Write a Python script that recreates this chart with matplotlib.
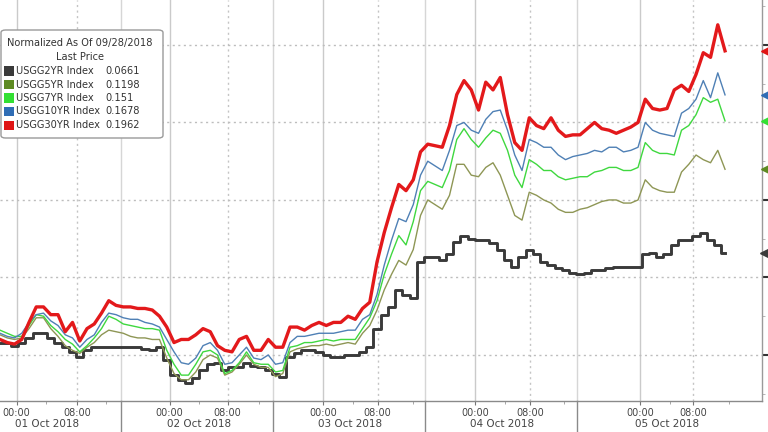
import numpy as np
import matplotlib
matplotlib.use("Agg")
import matplotlib.pyplot as plt
from matplotlib.patches import FancyBboxPatch, Rectangle
from matplotlib.transforms import blended_transform_factory

# ---------------- data ----------------
names = ["USGG2YR Index", "USGG5YR Index", "USGG7YR Index", "USGG10YR Index", "USGG30YR Index"]
line_colors = ["#3a3a3a", "#8e9655", "#3fd83f", "#4f80b5", "#e3191b"]
patch_colors = ["#3a3a3a", "#5d8a22", "#33e033", "#2f6db5", "#e01515"]
line_widths = [2.1, 1.0, 1.0, 1.0, 2.4]

# hourly samples of the normalized change, in basis points
y2_bp = [0.8, 0.8, 0.6, 0.8, 1.1, 1.4, 1.4, 1.1, 0.8, 0.5, 0.2, -0.1, 0.3, 0.5, 0.5, 0.5, 0.5, 0.5, 0.5, 0.5,
         0.4, 0.3, 0.5, -0.3, -1.3, -1.6, -1.8, -1.5, -1.0, -0.6, -0.5, -1.0, -0.8, -0.8, -0.5, -0.7, -0.8, -1.0, -1.2, -1.4,
         -0.1, 0.1, 0.3, 0.3, 0.2, 0.0, -0.1, -0.1, 0.0, 0.0, 0.2, 0.5, 1.7, 2.6, 3.1, 4.2, 3.9, 3.7, 6.0, 6.3,
         6.3, 6.1, 6.5, 7.3, 7.7, 7.5, 7.4, 7.4, 7.2, 6.8, 6.1, 5.7, 6.3, 6.8, 6.5, 6.0, 5.8, 5.6, 5.5, 5.3,
         5.2, 5.3, 5.5, 5.5, 5.6, 5.7, 5.7, 5.7, 5.7, 6.5, 6.6, 6.3, 6.5, 7.1, 7.4, 7.4, 7.7, 7.9, 7.4, 7.1,
         6.61]
y5_bp = [1.3, 1.1, 1.0, 1.1, 1.7, 2.4, 2.4, 1.7, 1.2, 0.6, 0.3, 0.1, 0.5, 0.8, 1.3, 1.6, 1.5, 1.4, 1.2, 1.1,
         1.1, 1.0, 1.0, -0.2, -1.2, -1.6, -1.6, -1.1, -0.3, 0.0, -0.2, -1.3, -1.1, -0.6, 0.0, -0.6, -0.8, -0.8, -1.4, -1.2,
         0.2, 0.4, 0.5, 0.6, 0.6, 0.7, 0.6, 0.7, 0.8, 0.7, 1.4, 1.9, 2.9, 4.2, 5.2, 6.1, 5.8, 6.8, 9.0, 10.0,
         9.7, 9.4, 10.3, 12.3, 12.3, 11.6, 11.5, 12.1, 12.4, 11.6, 10.3, 9.0, 8.7, 10.5, 10.3, 10.0, 9.8, 9.4, 9.2, 9.2,
         9.4, 9.5, 9.7, 9.9, 10.0, 10.0, 9.8, 9.8, 10.0, 11.3, 10.8, 10.6, 10.5, 10.5, 11.8, 12.3, 12.9, 12.6, 12.4, 13.2,
         11.98]
y7_bp = [1.6, 1.4, 1.2, 1.2, 1.9, 2.6, 2.5, 1.9, 1.5, 1.0, 0.7, 0.2, 0.6, 1.1, 1.7, 2.5, 2.3, 2.0, 1.9, 1.8,
         1.7, 1.7, 1.6, 0.3, -0.6, -1.3, -1.3, -0.6, 0.2, 0.3, 0.0, -1.2, -1.0, -0.5, 0.2, -0.5, -0.6, -0.6, -1.1, -1.0,
         0.5, 0.6, 0.8, 0.8, 0.9, 1.0, 0.9, 1.0, 1.0, 1.0, 1.7, 2.4, 3.5, 5.2, 6.5, 7.7, 7.1, 8.6, 10.6, 11.2,
         11.0, 10.8, 11.9, 13.9, 14.6, 13.9, 13.4, 14.0, 14.5, 14.3, 13.2, 11.6, 10.8, 12.6, 12.3, 11.9, 11.9, 11.5, 11.3, 11.4,
         11.5, 11.5, 11.8, 11.9, 12.1, 12.1, 11.9, 11.9, 12.1, 13.7, 13.2, 13.0, 13.0, 12.9, 14.5, 14.8, 15.5, 16.6, 16.3, 16.5,
         15.1]
y10_bp = [1.4, 1.2, 1.1, 1.4, 2.1, 2.6, 2.7, 2.2, 1.9, 1.3, 1.1, 0.5, 1.0, 1.3, 2.1, 2.7, 2.6, 2.4, 2.3, 2.3,
          2.1, 2.0, 1.8, 1.0, 0.2, -0.5, -0.6, -0.2, 0.6, 0.8, 0.3, -0.6, -0.5, 0.0, 0.5, -0.2, -0.3, 0.0, -0.6, -0.5,
          0.8, 1.2, 1.2, 1.3, 1.4, 1.4, 1.4, 1.5, 1.6, 1.6, 2.3, 2.6, 3.9, 5.8, 7.4, 8.8, 8.6, 9.7, 11.6, 12.5,
          12.2, 11.9, 13.2, 14.8, 15.0, 14.5, 14.3, 15.2, 15.7, 15.8, 14.5, 12.9, 11.9, 13.9, 13.7, 13.4, 13.4, 12.9, 12.6, 12.8,
          12.9, 13.0, 13.2, 13.1, 13.4, 13.4, 13.1, 13.2, 13.4, 15.0, 14.5, 14.3, 14.2, 14.1, 15.6, 15.9, 16.5, 17.7, 16.6, 18.2,
          16.78]
y30_bp = [1.0, 0.8, 0.7, 1.0, 2.1, 3.1, 3.1, 2.6, 2.6, 1.5, 2.1, 0.9, 1.7, 2.0, 2.7, 3.5, 3.2, 3.1, 3.1, 3.0,
          3.0, 2.9, 2.5, 1.8, 0.8, 1.0, 1.0, 1.3, 1.7, 1.5, 0.6, 0.3, 0.2, 1.0, 1.2, 0.3, 0.3, 1.0, 0.5, 0.5,
          1.8, 1.8, 1.6, 1.9, 2.1, 1.9, 2.1, 2.1, 2.5, 2.3, 3.0, 3.4, 6.0, 7.9, 9.5, 11.0, 10.6, 11.3, 13.1, 13.6,
          13.5, 13.4, 14.8, 16.8, 17.7, 17.1, 15.8, 17.6, 17.1, 17.9, 15.5, 13.7, 13.2, 15.3, 14.8, 14.6, 15.3, 14.5, 14.1, 14.2,
          14.2, 14.6, 15.0, 14.6, 14.5, 14.3, 14.5, 14.7, 15.0, 16.5, 15.9, 15.8, 15.9, 17.1, 17.4, 17.0, 18.1, 19.5, 19.2, 21.3,
          19.62]

day_labels = ["01 Oct 2018", "02 Oct 2018", "03 Oct 2018", "04 Oct 2018", "05 Oct 2018"]
hour_labels = ["00:00", "08:00"]
legend_title = ["Normalized As Of 09/28/2018", "Last Price"]

series_bp = [y2_bp, y5_bp, y7_bp, y10_bp, y30_bp]
series = [np.array(s) / 100.0 for s in series_bp]
hours = np.arange(len(y30_bp))  # trading-hour index

# axis layout (trading-hour positions of ticks)
midnight_pos = [2.3, 23.4, 44.6, 65.5, 88.3]
eight_pos = [10.6, 31.4, 52.1, 73.1, 95.6]
sep_pos = [16.7, 37.7, 58.6, 79.6]

W, H = 768, 432
fig = plt.figure(figsize=(W / 100, H / 100), dpi=100)
fig.patch.set_facecolor("white")
ax = fig.add_axes([0.0, 31 / H, 762 / W, 401 / H])
ax.set_facecolor("white")

ax.set_xlim(0, 105.1)
ax.set_ylim(-0.0297, 0.229)

# grid
for p in midnight_pos:
    ax.axvline(p, color="#cacaca", lw=1.0, zorder=0)
for p in sep_pos:
    ax.axvline(p, color="#d6d6d6", lw=1.0, zorder=0)
for p in eight_pos:
    ax.axvline(p, color="#c4c4c4", lw=1.0, ls=(0, (1.5, 2.5)), zorder=0)
for v in [0.0, 0.05, 0.10, 0.15, 0.20]:
    ax.axhline(v, color="#bdbdbd", lw=1.0, ls=(0, (1.5, 2.5)), zorder=0)

# lines
for i, (s, c, lw) in enumerate(zip(series, line_colors, line_widths)):
    if i == 0:
        ax.plot(hours, s, color=c, lw=lw, drawstyle="steps-mid", zorder=2 + i)
    else:
        ax.plot(hours, s, color=c, lw=lw, zorder=2 + i)

# spines / ticks
for sp in ["top", "left"]:
    ax.spines[sp].set_visible(False)
ax.spines["bottom"].set_color("#8a8a8a")
ax.spines["right"].set_color("#9a9a9a")
ax.spines["bottom"].set_linewidth(1.0)
ax.spines["right"].set_linewidth(1.0)

ticks_sorted = sorted(midnight_pos + eight_pos)
ax.set_xticks(ticks_sorted)
ax.set_xticklabels([hour_labels[0] if p in midnight_pos else hour_labels[1] for p in ticks_sorted])
ax.set_xticks([p + d for p in midnight_pos for d in (4.1, 12.3)], minor=True)
ax.tick_params(axis="x", which="major", length=3, color="#777", labelsize=7,
               labelcolor="#444", pad=2)
ax.tick_params(axis="x", which="minor", length=2, color="#999")

ax.yaxis.tick_right()
ax.set_yticks([0.0, 0.05, 0.10, 0.15, 0.20])
ax.set_yticks([-0.025, 0.025, 0.075, 0.125, 0.175, 0.225], minor=True)
ax.tick_params(axis="y", which="major", length=4, width=1.5, color="#333", labelright=False,
               right=True, left=False, direction="out")
ax.tick_params(axis="y", which="minor", length=2, color="#aaa", right=True, left=False)

# date labels and day separators below axis
for m, e, lab in zip(midnight_pos, eight_pos, day_labels):
    ax.text((m + e) / 2, -0.058, lab, transform=blended_transform_factory(ax.transData, ax.transAxes),
            ha="center", va="center", fontsize=7.5, color="#444")
for p in sep_pos:
    ax.plot([p, p], [0, -0.08], color="#8a8a8a", lw=1.0, clip_on=False,
            transform=blended_transform_factory(ax.transData, ax.transAxes))

# last-price tags on the right axis
tr = blended_transform_factory(ax.transAxes, ax.transData)
for i, (s, c) in enumerate(zip(series, patch_colors)):
    ms = 13 if i == 0 else 12
    ax.plot([1.0095], [s[-1]], marker="<", ms=ms, color=c, transform=tr, clip_on=False, zorder=10)

# legend box
bx0, by0, bx1, by1 = 1, 30, 163, 138
box = FancyBboxPatch((bx0 / W, 1 - by1 / H), (bx1 - bx0) / W, (by1 - by0) / H,
                     boxstyle="round,pad=0,rounding_size=0.006", transform=fig.transFigure,
                     facecolor="white", edgecolor="#9a9a9a", lw=1.0, zorder=20)
fig.add_artist(box)
fs = 7.1
fig.text(80 / W, 1 - 43 / H, legend_title[0], ha="center", va="center", fontsize=fs, color="#333", zorder=21)
fig.text(80 / W, 1 - 57 / H, legend_title[1], ha="center", va="center", fontsize=fs, color="#333", zorder=21)
for i, (nm, s, pc) in enumerate(zip(names, series, patch_colors)):
    yc = 71 + 13.5 * i
    fig.add_artist(Rectangle((4 / W, 1 - (yc + 4.5) / H), 10 / W, 9 / H, transform=fig.transFigure,
                             facecolor=pc, edgecolor="none", zorder=21))
    fig.text(16 / W, 1 - yc / H, nm, ha="left", va="center", fontsize=fs, color="#333", zorder=21)
    fig.text(105 / W, 1 - yc / H, f"{s[-1]:.4g}", ha="left", va="center", fontsize=fs, color="#333", zorder=21)

fig.savefig("out.png", dpi=100, facecolor="white")
